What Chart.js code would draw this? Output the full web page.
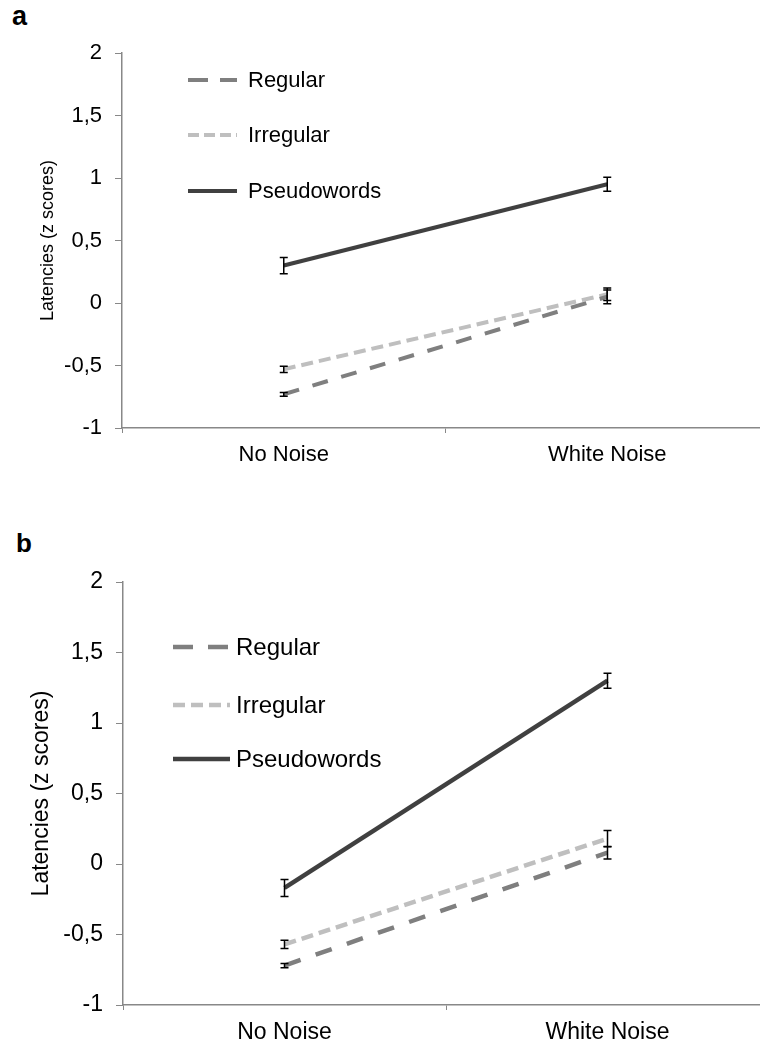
<!DOCTYPE html>
<html>
<head>
<meta charset="utf-8">
<script src="https://cdn.jsdelivr.net/npm/chart.js@4"></script>
<style>
  html, body { margin: 0; padding: 0; background: #fff; overflow: hidden; }
  #page { position: relative; width: 760px; height: 1050px; overflow: hidden; }
  canvas { position: absolute; left: 0; }
  .panel { position: absolute; font-family: 'Liberation Sans', Arial, sans-serif; font-weight: bold; line-height: 1; color: #000; }
</style>
</head>
<body>
<div id="page">
  <div class="panel" style="left:12px; top:3px; font-size:27px;">a</div>
  <canvas id="chartA" width="780" height="480" style="top:0px"></canvas>
  <div class="panel" style="left:16px; top:530px; font-size:26px;">b</div>
  <canvas id="chartB" width="780" height="550" style="top:500px"></canvas>
</div>
<script>
const categories = ['No Noise', 'White Noise'];
const seriesNames = ['Regular', 'Irregular', 'Pseudowords'];
const yTicks = [-1, -0.5, 0, 0.5, 1, 1.5, 2];

// panel a
const aRegular = [-0.73, 0.05];
const aRegularErr = [0.015, 0.055];
const aIrregular = [-0.53, 0.07];
const aIrregularErr = [0.025, 0.05];
const aPseudo = [0.30, 0.95];
const aPseudoErr = [0.065, 0.056];

// panel b
const bRegular = [-0.72, 0.08];
const bRegularErr = [0.015, 0.045];
const bIrregular = [-0.57, 0.18];
const bIrregularErr = [0.03, 0.057];
const bPseudo = [-0.17, 1.30];
const bPseudoErr = [0.06, 0.053];

const FONT = "'Liberation Sans', Arial, sans-serif";
const AXIS_GREY = '#888888';

const errorBars = {
    id: 'errorBars',
    afterDatasetsDraw(chart) {
        const ctx = chart.ctx;
        const y = chart.scales.y;
        ctx.save();
        ctx.strokeStyle = '#000';
        ctx.lineWidth = 1.5;
        chart.data.datasets.forEach((ds, i) => {
            const meta = chart.getDatasetMeta(i);
            meta.data.forEach((pt, j) => {
                const e = ds.errors[j];
                const top = y.getPixelForValue(ds.data[j] + e);
                const bot = y.getPixelForValue(ds.data[j] - e);
                ctx.beginPath();
                ctx.moveTo(pt.x, top); ctx.lineTo(pt.x, bot);
                ctx.moveTo(pt.x - 4, top); ctx.lineTo(pt.x + 4, top);
                ctx.moveTo(pt.x - 4, bot); ctx.lineTo(pt.x + 4, bot);
                ctx.stroke();
            });
        });
        ctx.restore();
    }
};

const insideLegend = {
    id: 'insideLegend',
    afterDraw(chart, args, opts) {
        const ctx = chart.ctx;
        ctx.save();
        ctx.font = opts.fontSize + 'px ' + FONT;
        ctx.textBaseline = 'middle';
        ctx.fillStyle = '#000';
        chart.data.datasets.forEach((ds, i) => {
            const yy = opts.rows[i];
            ctx.strokeStyle = ds.borderColor;
            ctx.lineWidth = ds.borderWidth;
            ctx.setLineDash(opts.dashes[i]);
            ctx.beginPath();
            ctx.moveTo(opts.x0, yy);
            ctx.lineTo(opts.x1, yy);
            ctx.stroke();
            ctx.setLineDash([]);
            ctx.fillText(ds.label, opts.textX, yy + 1);
        });
        ctx.restore();
    }
};

function makeChart(id, series, errs, cfg) {
    const ctx = document.getElementById(id).getContext('2d');
    const colors = ['#7f7f7f', '#bfbfbf', '#404040'];
    const dashes = [cfg.regDash, cfg.irrDash, []];
    const datasets = series.map((vals, i) => ({
        label: seriesNames[i],
        data: vals,
        errors: errs[i],
        borderColor: colors[i],
        backgroundColor: colors[i],
        borderWidth: cfg.lineWidth,
        borderDash: dashes[i],
        pointRadius: 0,
        tension: 0
    }));
    return new Chart(ctx, {
        type: 'line',
        data: { labels: categories, datasets },
        plugins: [errorBars, insideLegend],
        options: {
            responsive: false,
            animation: false,
            layout: { padding: { top: cfg.top, left: cfg.left, right: 11, bottom: 0 } },
            plugins: {
                legend: { display: false },
                tooltip: { enabled: false },
                insideLegend: cfg.legend
            },
            scales: {
                x: {
                    offset: true,
                    grid: { offset: true, drawOnChartArea: false, tickLength: 5, color: AXIS_GREY },
                    border: { color: AXIS_GREY, width: 1.5 },
                    ticks: { color: '#000', padding: 9, font: { family: FONT, size: cfg.fontSize } },
                    afterFit: s => { s.height = cfg.xHeight; }
                },
                y: {
                    min: -1,
                    max: 2,
                    afterBuildTicks: s => { s.ticks = yTicks.map(v => ({ value: v })); },
                    grid: { drawOnChartArea: false, tickLength: 7, color: AXIS_GREY },
                    border: { color: AXIS_GREY, width: 1.5 },
                    ticks: {
                        color: '#000',
                        padding: 13,
                        font: { family: FONT, size: cfg.fontSize },
                        callback: v => String(v).replace('.', ',')
                    },
                    title: {
                        display: true,
                        text: 'Latencies (z scores)',
                        color: '#000',
                        font: { family: FONT, size: cfg.titleSize }
                    },
                    afterFit: s => { s.width = cfg.yWidth; }
                }
            }
        }
    });
}

makeChart('chartA', [aRegular, aIrregular, aPseudo], [aRegularErr, aIrregularErr, aPseudoErr], {
    top: 53, left: 33, yWidth: 89, xHeight: 52,
    fontSize: 22, titleSize: 18, lineWidth: 4,
    regDash: [16, 14], irrDash: [12, 6],
    legend: { rows: [80, 135, 191], x0: 188, x1: 237, textX: 248, fontSize: 22,
              dashes: [[20, 12], [11, 5], []] }
});

makeChart('chartB', [bRegular, bIrregular, bPseudo], [bRegularErr, bIrregularErr, bPseudoErr], {
    top: 82, left: 24, yWidth: 99, xHeight: 45,
    fontSize: 23, titleSize: 23, lineWidth: 4.5,
    regDash: [17, 16], irrDash: [12, 6],
    legend: { rows: [147, 205, 259], x0: 173, x1: 230, textX: 236, fontSize: 24,
              dashes: [[20, 15], [12, 6], []] }
});
</script>
</body>
</html>
